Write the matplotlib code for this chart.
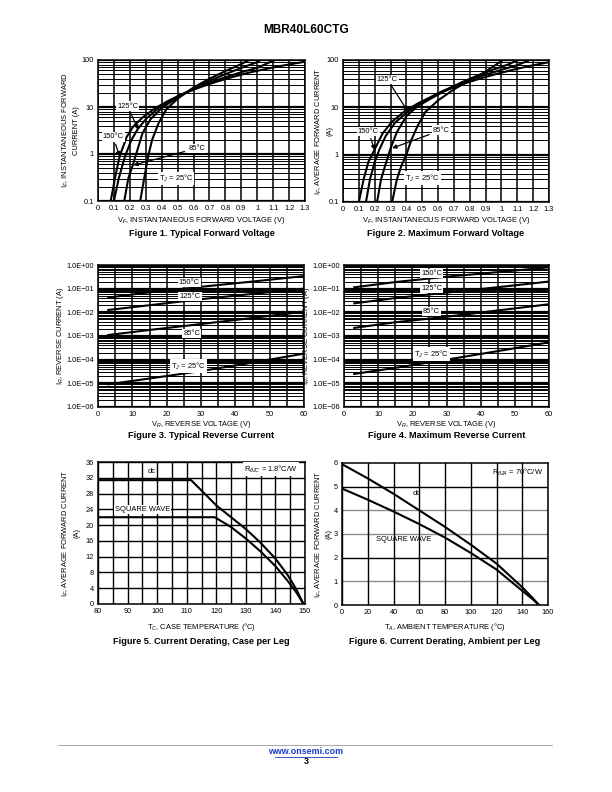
import matplotlib
matplotlib.use("Agg")
import matplotlib.pyplot as plt
from matplotlib.lines import Line2D
from matplotlib.ticker import FixedLocator, NullFormatter, LogLocator

plt.rcParams["font.family"] = ["Liberation Sans", "DejaVu Sans"]
plt.rcParams["mathtext.fontset"] = "custom"
plt.rcParams["mathtext.rm"] = "Liberation Sans"
plt.rcParams["mathtext.it"] = "Liberation Sans:italic"

# Figure 1: typical forward voltage (V, A)
typ_25_v = [0.265, 0.29, 0.315, 0.34, 0.38, 0.43, 0.50, 0.60, 0.70, 0.80, 0.90, 0.95]
typ_25_i = [0.1, 0.3, 0.9, 2.0, 4.5, 9.0, 15, 26, 40, 58, 82, 100]
typ_85_v = [0.165, 0.19, 0.22, 0.25, 0.28, 0.33, 0.40, 0.50, 0.60, 0.70, 0.80, 0.90, 1.00, 1.02]
typ_85_i = [0.1, 0.3, 0.6, 1.3, 2.8, 5.5, 9.5, 16, 25, 36, 50, 68, 90, 100]
typ_125_v = [0.10, 0.13, 0.17, 0.21, 0.25, 0.30, 0.38, 0.50, 0.60, 0.70, 0.80, 0.90, 1.00, 1.11]
typ_125_i = [0.1, 0.3, 0.9, 2.0, 3.4, 5.5, 9.5, 17, 24, 33, 43, 55, 68, 100]
typ_150_v = [0.08, 0.11, 0.136, 0.18, 0.22, 0.28, 0.36, 0.45, 0.55, 0.65, 0.75, 0.85, 0.95, 1.05, 1.15, 1.30]
typ_150_i = [0.1, 0.35, 0.9, 2.3, 3.8, 6.0, 9.5, 14, 20, 27, 35, 44, 54, 64, 75, 92]

# Figure 2: maximum forward voltage
max_25_v = [0.31, 0.34, 0.37, 0.40, 0.43, 0.47, 0.52, 0.60, 0.70, 0.80, 0.90, 1.01]
max_25_i = [0.1, 0.3, 0.6, 1.0, 2.0, 4.0, 8.0, 14, 24, 37, 57, 100]
max_85_v = [0.215, 0.24, 0.27, 0.30, 0.34, 0.40, 0.47, 0.55, 0.65, 0.75, 0.85, 0.95, 1.05, 1.10]
max_85_i = [0.1, 0.3, 0.65, 1.35, 3.0, 6.5, 10.5, 15, 23, 34, 47, 63, 82, 100]
max_125_v = [0.145, 0.17, 0.20, 0.23, 0.27, 0.33, 0.41, 0.50, 0.60, 0.70, 0.80, 0.90, 1.00, 1.10, 1.18]
max_125_i = [0.1, 0.3, 0.7, 1.3, 2.5, 4.8, 8.1, 13, 20, 28, 38, 49, 62, 78, 100]
max_150_v = [0.10, 0.13, 0.16, 0.20, 0.25, 0.31, 0.39, 0.48, 0.58, 0.68, 0.78, 0.88, 0.98, 1.08, 1.18, 1.30]
max_150_i = [0.1, 0.3, 0.7, 1.3, 2.8, 5.0, 8.3, 12.5, 18, 25, 33, 42, 52, 63, 75, 90]

# Figures 3 and 4: reverse current vs reverse voltage
vr = [3, 15, 30, 45, 60]
typ_rev_150 = [0.042, 0.07, 0.12, 0.2, 0.34]
typ_rev_125 = [0.0126, 0.02, 0.036, 0.06, 0.1]
typ_rev_85 = [1.1e-3, 1.8e-3, 3.2e-3, 5.8e-3, 0.0107]
typ_rev_25 = [9.1e-6, 1.6e-5, 3.3e-5, 7.5e-5, 1.8e-4]
max_rev_150 = [0.114, 0.19, 0.32, 0.5, 0.8]
max_rev_125 = [0.024, 0.04, 0.068, 0.115, 0.2]
max_rev_85 = [2.2e-3, 3.8e-3, 6.5e-3, 0.012, 0.022]
max_rev_25 = [2.5e-5, 4.5e-5, 1.0e-4, 2.3e-4, 5.4e-4]

# Figure 5: derating vs case temperature
tc_dc = [80, 111.5, 120, 125, 130, 135, 140, 144, 147, 149.5]
if_dc = [31.4, 31.4, 25.0, 22.0, 19.0, 15.5, 11.5, 7.5, 3.8, 0]
tc_sq = [80, 119.5, 125, 130, 135, 140, 144, 147, 149.5]
if_sq = [22.0, 22.0, 19.5, 16.6, 13.3, 9.6, 6.0, 3.0, 0]

# Figure 6: derating vs ambient temperature
ta_dc = [0, 20, 40, 60, 80, 100, 120, 140, 148, 153]
ia_dc = [5.95, 5.35, 4.7, 4.0, 3.3, 2.55, 1.75, 0.75, 0.3, 0]
ta_sq = [0, 20, 40, 60, 80, 100, 120, 140, 148, 153]
ia_sq = [4.92, 4.45, 3.95, 3.42, 2.85, 2.2, 1.5, 0.6, 0.25, 0]

W, H = 612, 792
fig = plt.figure(figsize=(W / 100, H / 100), dpi=100)

TICK_FS = 5.3
LABEL_FS = 5.4
CAP_FS = 6.6
NOTE_FS = 5.4
BOX = dict(boxstyle="square,pad=0.15", fc="white", ec="none")


def make_axes(left, right, top, bottom):
    ax = fig.add_axes([left / W, 1 - bottom / H, (right - left) / W, (bottom - top) / H])
    for sp in ax.spines.values():
        sp.set_linewidth(1.1)
    ax.tick_params(labelsize=TICK_FS, length=0, pad=3)
    return ax


def log_grid(ax):
    ax.set_yscale("log")
    ax.yaxis.set_major_locator(LogLocator(base=10))
    ax.yaxis.set_minor_locator(LogLocator(base=10, subs=range(2, 10)))
    ax.yaxis.set_minor_formatter(NullFormatter())
    ax.grid(True, which="major", axis="y", color="black", lw=1.6)
    ax.grid(True, which="minor", axis="y", color="black", lw=0.7)
    ax.grid(True, which="major", axis="x", color="black", lw=1.1)
    ax.tick_params(which="minor", length=0)


def note(ax, x, y, s, box=True, fs=NOTE_FS):
    ax.text(x, y, s, fontsize=fs, ha="center", va="center",
            bbox=BOX if box else None, zorder=5)


def arrow(ax, xy, xytext, s):
    ax.annotate(s, xy=xy, xytext=xytext, fontsize=NOTE_FS, ha="center", va="center",
                bbox=BOX, zorder=5,
                arrowprops=dict(arrowstyle="-|>", lw=0.9, color="black",
                                mutation_scale=6, shrinkA=2, shrinkB=0))


def page_text(x, y, s, **kw):
    # x, y in page pixels from the top-left corner
    return fig.text(x / W, 1 - y / H, s, ha="center", va="center", **kw)


def labels(ax, xlabel, xlabel_y, ylabel_lines, ylabel_xs, caption, caption_y):
    x0, y0, w, h = ax.get_position().bounds
    cx = (x0 + w / 2) * W
    cy = (1 - (y0 + h / 2)) * H
    page_text(cx, xlabel_y, xlabel, fontsize=LABEL_FS)
    # each y-label line is its own text so the second short line sits alone
    for line, lx in zip(ylabel_lines, ylabel_xs):
        page_text(lx, cy, line, fontsize=LABEL_FS, rotation=90)
    page_text(cx, caption_y, caption, fontsize=CAP_FS, fontweight="bold")


def forward_plot(ax, curves):
    log_grid(ax)
    for v, i in curves:
        ax.plot(v, i, color="black", lw=1.5, zorder=4)
    ax.set_xlim(0, 1.3)
    ax.set_ylim(0.1, 100)
    ax.xaxis.set_major_locator(FixedLocator([k / 10 for k in range(14)]))
    ax.set_xticklabels(["0"] + [f"{k / 10:g}" for k in range(1, 14)])
    ax.set_yticks([0.1, 1, 10, 100])
    ax.set_yticklabels(["0.1", "1", "10", "100"])


def reverse_plot(ax, curves):
    log_grid(ax)
    for i in curves:
        ax.plot(vr, i, color="black", lw=1.5, zorder=4)
    ax.set_xlim(0, 60)
    ax.set_ylim(1e-6, 1)
    ax.xaxis.set_major_locator(FixedLocator(list(range(0, 61, 5))))
    ax.set_xticklabels([str(k) if k % 10 == 0 else "" for k in range(0, 61, 5)])
    exps = [-6, -5, -4, -3, -2, -1, 0]
    ax.set_yticks([10.0 ** e for e in exps])
    ax.set_yticklabels(["1.0E+00" if e == 0 else f"1.0E\u22120{-e}" for e in exps])


def main() -> None:
    page_text(306, 30, "MBR40L60CTG", fontsize=8.6, fontweight="bold")

    # Figure 1
    ax1 = make_axes(98, 305, 60, 201)
    forward_plot(ax1, [(typ_25_v, typ_25_i), (typ_85_v, typ_85_i),
                       (typ_125_v, typ_125_i), (typ_150_v, typ_150_i)])
    arrow(ax1, (0.253, 3.3), (0.185, 10.5), "125°C")
    arrow(ax1, (0.136, 0.89), (0.095, 2.3), "150°C")
    arrow(ax1, (0.222, 0.58), (0.62, 1.32), "85°C")
    note(ax1, 0.49, 0.30, r"T$_J$ = 25°C")
    labels(ax1, r"V$_F$, INSTANTANEOUS FORWARD VOLTAGE (V)", 221,
           ["I$_F$, INSTANTANEOUS FORWARD", "CURRENT (A)"], [66, 76.5],
           "Figure 1. Typical Forward Voltage", 234)

    # Figure 2
    ax2 = make_axes(343, 549, 60, 202)
    forward_plot(ax2, [(max_25_v, max_25_i), (max_85_v, max_85_i),
                       (max_125_v, max_125_i), (max_150_v, max_150_i)])
    arrow(ax2, (0.41, 8.1), (0.28, 39), "125°C")
    arrow(ax2, (0.20, 1.26), (0.16, 3.1), "150°C")
    arrow(ax2, (0.31, 1.37), (0.62, 3.3), "85°C")
    note(ax2, 0.50, 0.32, r"T$_J$ = 25°C")
    labels(ax2, r"V$_F$, INSTANTANEOUS FORWARD VOLTAGE (V)", 221,
           ["I$_F$, AVERAGE FORWARD CURRENT", "(A)"], [319, 330],
           "Figure 2. Maximum Forward Voltage", 234)

    # Figure 3
    ax3 = make_axes(98, 304, 265, 407)
    reverse_plot(ax3, [typ_rev_150, typ_rev_125, typ_rev_85, typ_rev_25])
    note(ax3, 26.6, 0.178, "150°C")
    note(ax3, 26.8, 0.046, "125°C")
    note(ax3, 27.3, 1.3e-3, "85°C")
    note(ax3, 26.3, 5.4e-5, r"T$_J$ = 25°C")
    labels(ax3, r"V$_R$, REVERSE VOLTAGE (V)", 424,
           [r"I$_R$, REVERSE CURRENT (A)"], [61],
           "Figure 3. Typical Reverse Current", 436)

    # Figure 4
    ax4 = make_axes(344, 549, 265, 407)
    reverse_plot(ax4, [max_rev_150, max_rev_125, max_rev_85, max_rev_25])
    note(ax4, 25.6, 0.45, "150°C")
    note(ax4, 25.6, 0.104, "125°C")
    note(ax4, 25.6, 0.0107, "85°C")
    note(ax4, 25.6, 1.7e-4, r"T$_J$ = 25°C")
    labels(ax4, r"V$_R$, REVERSE VOLTAGE (V)", 424,
           [r"I$_R$, REVERSE CURRENT (A)"], [307],
           "Figure 4. Maximum Reverse Current", 436)

    # Figure 5
    ax5 = make_axes(98, 305, 462, 604)
    ax5.plot(tc_dc, if_dc, color="black", lw=1.5, zorder=4)
    ax5.plot(tc_sq, if_sq, color="black", lw=1.5, zorder=4)
    ax5.set_xlim(80, 150)
    ax5.set_ylim(0, 36)
    ax5.xaxis.set_major_locator(FixedLocator(list(range(80, 151, 5))))
    ax5.set_xticklabels([str(k) if k % 10 == 0 else "" for k in range(80, 151, 5)])
    ax5.set_yticks(list(range(0, 37, 4)))
    ax5.grid(True, color="black", lw=1.0)
    note(ax5, 98, 33.6, "dc", box=False)
    note(ax5, 95, 24, "SQUARE WAVE")
    note(ax5, 138.5, 34.2, "R$_{\\theta JC}$ = 1.8°C/W")
    labels(ax5, "T$_C$, CASE TEMPERATURE (°C)", 627,
           ["I$_F$, AVERAGE FORWARD CURRENT", "(A)"], [66, 77],
           "Figure 5. Current Derating, Case per Leg", 642)

    # Figure 6
    ax6 = make_axes(342, 548, 463, 605)
    ax6.plot(ta_dc, ia_dc, color="black", lw=1.5, zorder=4)
    ax6.plot(ta_sq, ia_sq, color="black", lw=1.5, zorder=4)
    ax6.set_xlim(0, 160)
    ax6.set_ylim(0, 6)
    ax6.set_xticks(list(range(0, 161, 20)))
    ax6.set_yticks(list(range(0, 7)))
    ax6.grid(True, axis="x", color="black", lw=1.0)
    for yv in range(1, 6):
        ax6.axhline(yv, color="black" if yv in (2, 5) else "#8c8c8c", lw=1.0, zorder=1)
    note(ax6, 58, 4.7, "dc", box=False)
    note(ax6, 48, 2.75, "SQUARE WAVE", box=False)
    note(ax6, 136, 5.6, "R$_{\\theta JA}$ = 70°C/W", box=False)
    labels(ax6, "T$_A$, AMBIENT TEMPERATURE (°C)", 627,
           ["I$_F$, AVERAGE FORWARD CURRENT", "(A)"], [319, 329],
           "Figure 6. Current Derating, Ambient per Leg", 642)

    # footer
    fig.add_artist(Line2D([58 / W, 552 / W], [1 - 745 / H] * 2, color="#9a9a9a", lw=0.6))
    page_text(306, 752, "www.onsemi.com", fontsize=6.4, fontweight="bold", color="#1a3cc8")
    fig.add_artist(Line2D([275 / W, 337 / W], [1 - 756.5 / H] * 2, color="#1a3cc8", lw=0.6))
    page_text(306, 762, "3", fontsize=6.4, fontweight="bold")

    fig.savefig("out.png", dpi=100, facecolor="white")


if __name__ == "__main__":
    main()
